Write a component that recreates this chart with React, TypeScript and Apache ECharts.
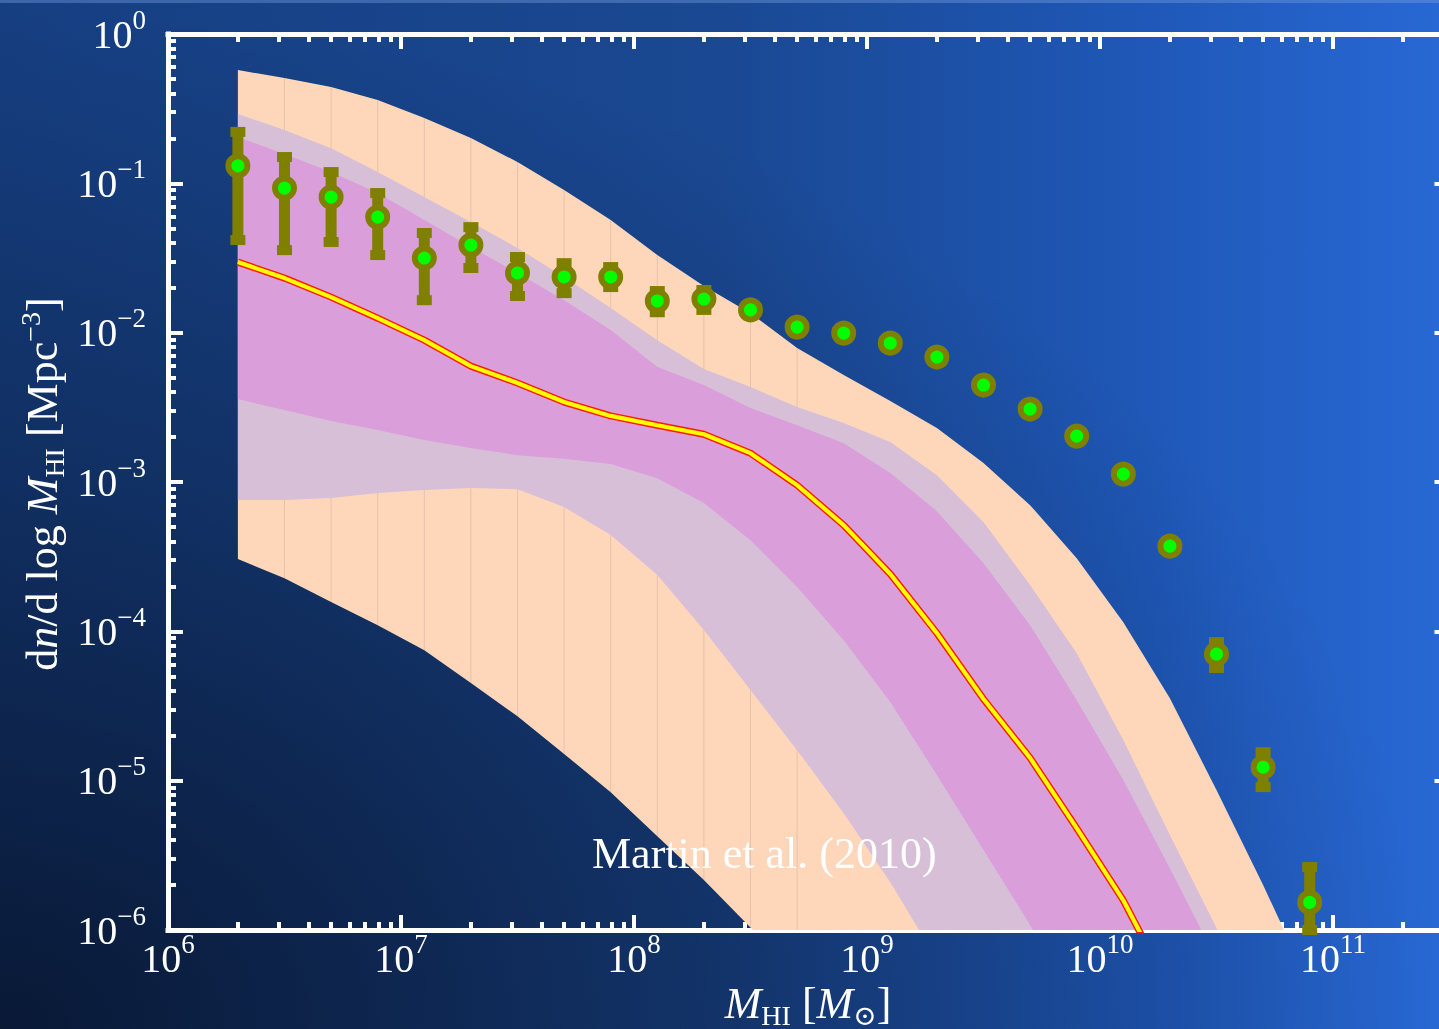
import { useEffect, useRef } from "react";
import * as echarts from "echarts";

const SERIF = '"Liberation Serif", "Times New Roman", "DejaVu Serif", serif';
const WHITE = "#ffffff";
const OLIVE = "#808000";
const GREEN = "#00ff00";
const PEACH = "#fed7ba";
const LAVENDER = "#d7bfd8";
const ORCHID = "#da9edb";

// Axis ranges in log10 units and the decades that carry labels / major ticks
const X_RANGE = [6, 11.5];
const Y_RANGE = [-6, 0];
const X_DECADES = [6, 7, 8, 9, 10, 11];
const Y_DECADES = [-6, -5, -4, -3, -2, -1, 0];

// Model grid, M_HI [M_sun] (log10 M = 6.3, 6.5, ... 10.9)
const MODEL_MASS = [
  1.995e6, 3.162e6, 5.012e6, 7.943e6, 1.259e7, 1.995e7, 3.162e7, 5.012e7,
  7.943e7, 1.259e8, 1.995e8, 3.162e8, 5.012e8, 7.943e8, 1.259e9, 1.995e9,
  3.162e9, 5.012e9, 7.943e9, 1.259e10, 1.995e10, 3.162e10, 5.012e10, 7.943e10,
];

// Model median mass function, dn/dlogM [Mpc^-3]
const MODEL_MEDIAN = [
  0.0297, 0.0232, 0.0173, 0.0125, 0.00891, 0.00597, 0.0046, 0.00343, 0.00277,
  0.0024, 0.00209, 0.00156, 0.000953, 0.000514, 0.000242, 9.73e-5, 3.52e-5,
  1.42e-5, 4.81e-6, 1.58e-6, 3.98e-7,
];

// Outer (peach) scatter envelope
const OUTER_HI = [
  0.574, 0.507, 0.442, 0.361, 0.274, 0.201, 0.139, 0.0902, 0.0568, 0.0331,
  0.0205, 0.0135, 0.00789, 0.0052, 0.00348, 0.0023, 0.00134, 0.0007, 0.000309,
  0.000115, 3.57e-5, 8.65e-6, 2.0e-6, 4.27e-7,
];
const OUTER_LO = [
  0.000305, 0.000227, 0.000157, 0.00011, 7.48e-5, 4.5e-5, 2.7e-5, 1.51e-5,
  8.38e-6, 4.25e-6, 2.16e-6, 1.04e-6, 5.01e-7,
];

// Middle (lavender) envelope
const MID_HI = [
  0.291, 0.228, 0.172, 0.119, 0.0809, 0.0551, 0.0369, 0.0236, 0.0146, 0.00891,
  0.0057, 0.00433, 0.00318, 0.00248, 0.00185, 0.00111, 0.00054, 0.000204,
  7.14e-5, 1.87e-5, 4.32e-6, 1.03e-6, 2.51e-7,
];
const MID_LO = [
  0.000757, 0.000757, 0.00078, 0.000843, 0.000883, 0.00091, 0.000895, 0.000679,
  0.000441, 0.000238, 0.000102, 4.04e-5, 1.6e-5, 6.05e-6, 2.09e-6, 6.31e-7,
];

// Inner (orchid) envelope
const INNER_HI = [
  0.204, 0.157, 0.119, 0.0861, 0.0568, 0.0374, 0.0251, 0.0165, 0.0104, 0.00589,
  0.00446, 0.00313, 0.0024, 0.00182, 0.00115, 0.000638, 0.000286, 0.00011,
  3.46e-5, 1.01e-5, 2.59e-6, 6.31e-7,
];
const INNER_LO = [
  0.00359, 0.00303, 0.00256, 0.00223, 0.00191, 0.00169, 0.00151, 0.00143,
  0.00132, 0.00106, 0.000723, 0.000408, 0.000198, 8.73e-5, 3.36e-5, 1.09e-5,
  3.43e-6, 1.08e-6, 3.16e-7,
];

// Martin et al. (2010) HI mass function
const OBS_MASS = [
  1.995e6, 3.162e6, 5.012e6, 7.943e6, 1.259e7, 1.995e7, 3.162e7, 5.012e7,
  7.943e7, 1.259e8, 1.995e8, 3.162e8, 5.012e8, 7.943e8, 1.259e9, 1.995e9,
  3.162e9, 5.012e9, 7.943e9, 1.259e10, 1.995e10, 3.162e10, 5.012e10, 7.943e10,
];
const OBS_PHI = [
  0.131, 0.0929, 0.0809, 0.0594, 0.0316, 0.0386, 0.0251, 0.0236, 0.0236,
  0.0163, 0.0168, 0.0142, 0.0109, 0.00993, 0.00851, 0.00687, 0.00446, 0.00308,
  0.00203, 0.00113, 0.000372, 7.03e-5, 1.23e-5, 1.53e-6,
];
const OBS_HI = [
  0.221, 0.15, 0.119, 0.0861, 0.0465, 0.0509, 0.0321, 0.0292, 0.0275, 0.019,
  0.0193, 0.0153, 0.0117, 0.0106, 0.009, 0.0072, 0.0047, 0.0033, 0.00215,
  0.0012, 0.0004, 8.47e-5, 1.55e-5, 2.64e-6,
];
const OBS_LO = [
  0.0417, 0.0357, 0.0405, 0.0331, 0.0165, 0.0271, 0.0176, 0.0184, 0.0202,
  0.0137, 0.0142, 0.0131, 0.0101, 0.0093, 0.008, 0.0065, 0.0042, 0.0029,
  0.0019, 0.00106, 0.000345, 5.68e-5, 9.06e-6, 1.0e-6,
];

const lg = Math.log10;

const BAND_LAYERS = [
  { upper: OUTER_HI, lower: OUTER_LO, color: PEACH, seams: true },
  { upper: MID_HI, lower: MID_LO, color: LAVENDER, seams: false },
  { upper: INNER_HI, lower: INNER_LO, color: ORCHID, seams: false },
];

// log10 positions of the 2..9 sub-decade ticks inside a range
function minorPositions(range: number[]) {
  const out: number[] = [];
  for (let d = Math.floor(range[0]); d < range[1]; d++) {
    for (let k = 2; k <= 9; k++) {
      const v = d + lg(k);
      if (v > range[0] && v < range[1]) out.push(v);
    }
  }
  return out;
}

function expText(v: number) {
  const e = Math.round(v);
  return e < 0 ? "\u2212" + -e : String(e);
}

const LABEL_RICH = {
  b: { fontSize: 40, lineHeight: 56, fontFamily: SERIF, color: WHITE },
  s: { fontSize: 27, lineHeight: 28, verticalAlign: "top", fontFamily: SERIF, color: WHITE },
};

function makeAxis(
  position: string,
  range: number[],
  ticks: number[],
  tickLength: number,
  withLine: boolean,
  label: null | { margin: number }
) {
  return {
    type: "value",
    position,
    offset: 0,
    min: range[0],
    max: range[1],
    silent: true,
    splitLine: { show: false },
    minorTick: { show: false },
    axisPointer: { show: false },
    axisLine: {
      show: withLine,
      onZero: false,
      lineStyle: { color: WHITE, width: 5, cap: "square" },
    },
    axisTick: {
      show: true,
      inside: true,
      length: tickLength,
      customValues: ticks,
      lineStyle: { color: WHITE, width: 4 },
    },
    axisLabel: label
      ? {
          show: true,
          customValues: ticks,
          margin: label.margin,
          hideOverlap: false,
          formatter: (v: number) => `{b|10}{s|${expText(v)}}`,
          rich: LABEL_RICH,
        }
      : { show: false },
  };
}

function buildOption() {
  const xMinor = minorPositions(X_RANGE);
  const yMinor = minorPositions(Y_RANGE);

  const titleRich = {
    r: { fontSize: 44, fontFamily: SERIF, fill: WHITE, lineHeight: 52 },
    i: { fontSize: 44, fontFamily: SERIF, fontStyle: "italic", fill: WHITE, lineHeight: 52 },
    sub: { fontSize: 28, fontFamily: SERIF, fill: WHITE, lineHeight: 30, verticalAlign: "bottom" },
    sup: { fontSize: 28, fontFamily: SERIF, fill: WHITE, lineHeight: 30, verticalAlign: "top" },
  };

  return {
    animation: false,
    backgroundColor: "transparent",
    grid: {
      left: 168,
      top: 34,
      width: 1281.5,
      height: 896,
      containLabel: false,
      outerBoundsMode: "none",
    },
    xAxis: [
      makeAxis("bottom", X_RANGE, X_DECADES, 15, true, { margin: 0 }),
      makeAxis("bottom", X_RANGE, xMinor, 8, false, null),
      makeAxis("top", X_RANGE, X_DECADES, 15, true, null),
      makeAxis("top", X_RANGE, xMinor, 8, false, null),
    ],
    yAxis: [
      makeAxis("left", Y_RANGE, Y_DECADES, 15, true, { margin: 22 }),
      makeAxis("left", Y_RANGE, yMinor, 8, false, null),
      makeAxis("right", Y_RANGE, Y_DECADES, 15, true, null),
      makeAxis("right", Y_RANGE, yMinor, 8, false, null),
    ],
    graphic: [
      {
        type: "rect",
        z: -100,
        silent: true,
        shape: { x: 0, y: 0, width: 1439, height: 1029 },
        style: {
          fill: new echarts.graphic.LinearGradient(0, 0, 1, 0, [
            { offset: 0, color: "#163f82" },
            { offset: 0.5, color: "#1a4892" },
            { offset: 0.8, color: "#1f58b8" },
            { offset: 1, color: "#2868d4" },
          ]),
        },
      },
      {
        type: "rect",
        z: -99,
        silent: true,
        shape: { x: 0, y: 0, width: 1439, height: 1029 },
        style: {
          fill: new echarts.graphic.RadialGradient(0, 1, 1, [
            { offset: 0, color: "rgba(4,10,24,0.72)" },
            { offset: 0.55, color: "rgba(4,10,24,0.3)" },
            { offset: 1, color: "rgba(4,10,24,0)" },
          ]),
        },
      },
      {
        type: "rect",
        z: -98,
        silent: true,
        shape: { x: 0, y: 0, width: 1439, height: 3 },
        style: { fill: "rgba(120,160,225,0.4)" },
      },
      {
        type: "text",
        z: 100,
        silent: true,
        x: 592,
        y: 853,
        style: {
          text: "Martin et al. (2010)",
          fill: WHITE,
          fontSize: 44,
          fontFamily: SERIF,
          align: "left",
          verticalAlign: "middle",
        },
      },
      {
        type: "text",
        z: 100,
        silent: true,
        x: 808,
        y: 1003,
        style: {
          text: "{i|M}{sub|HI}{r| [}{i|M}{sub|\u2299}{r|]}",
          rich: titleRich,
          fill: WHITE,
          align: "center",
          verticalAlign: "middle",
        },
      },
      {
        type: "text",
        z: 100,
        silent: true,
        x: 42,
        y: 484,
        rotation: Math.PI / 2,
        style: {
          text: "{r|d}{i|n}{r|/d log }{i|M}{sub|HI}{r| [Mpc}{sup|\u22123}{r|]}",
          rich: titleRich,
          fill: WHITE,
          align: "center",
          verticalAlign: "middle",
        },
      },
    ],
    series: [
      {
        type: "custom",
        name: "model envelopes",
        coordinateSystem: "cartesian2d",
        xAxisIndex: 0,
        yAxisIndex: 0,
        silent: true,
        z: 2,
        data: BAND_LAYERS.map(() => [X_RANGE[0], Y_RANGE[0]]),
        renderItem: (params: any, api: any) => {
          const layer = BAND_LAYERS[params.dataIndex];
          const top = layer.upper.map((v, i) => api.coord([lg(MODEL_MASS[i]), lg(v)]));
          const bottom = layer.lower
            .map((v, i) => api.coord([lg(MODEL_MASS[i]), lg(v)]))
            .reverse();
          const children: any[] = [
            {
              type: "polygon",
              shape: { points: top.concat(bottom) },
              style: { fill: layer.color },
            },
          ];
          if (layer.seams) {
            const n = Math.min(layer.upper.length, layer.lower.length);
            for (let i = 1; i < n; i++) {
              const a = api.coord([lg(MODEL_MASS[i]), lg(layer.upper[i])]);
              const b = api.coord([lg(MODEL_MASS[i]), lg(layer.lower[i])]);
              children.push({
                type: "line",
                shape: { x1: a[0], y1: a[1], x2: b[0], y2: b[1] },
                style: { stroke: "rgba(150,125,125,0.22)", lineWidth: 1 },
              });
            }
          }
          const cs = params.coordSys;
          return {
            type: "group",
            children,
            clipPath: {
              type: "rect",
              shape: { x: cs.x, y: cs.y, width: cs.width, height: cs.height },
            },
          };
        },
      },
      {
        type: "line",
        name: "median edge",
        xAxisIndex: 0,
        yAxisIndex: 0,
        silent: true,
        z: 3,
        symbol: "none",
        clip: true,
        data: MODEL_MEDIAN.map((v, i) => [lg(MODEL_MASS[i]), lg(v)]),
        lineStyle: { color: "#ff1a00", width: 7 },
      },
      {
        type: "line",
        name: "median",
        xAxisIndex: 0,
        yAxisIndex: 0,
        silent: true,
        z: 3,
        symbol: "none",
        clip: true,
        data: MODEL_MEDIAN.map((v, i) => [lg(MODEL_MASS[i]), lg(v)]),
        lineStyle: { color: "#ffff00", width: 4.2 },
      },
      {
        type: "custom",
        name: "Martin et al. (2010) errors",
        coordinateSystem: "cartesian2d",
        xAxisIndex: 0,
        yAxisIndex: 0,
        silent: true,
        z: 4,
        dimensions: ["m", "lo", "hi"],
        encode: { x: 0, y: [1, 2] },
        data: OBS_MASS.map((m, i) => [lg(m), lg(OBS_LO[i]), lg(OBS_HI[i])]),
        renderItem: (_params: any, api: any) => {
          const lo = api.coord([api.value(0), api.value(1)]);
          const hi = api.coord([api.value(0), api.value(2)]);
          const x = lo[0];
          const fill = { fill: OLIVE };
          return {
            type: "group",
            children: [
              { type: "rect", shape: { x: x - 5.5, y: hi[1], width: 11, height: lo[1] - hi[1] }, style: fill },
              { type: "rect", shape: { x: x - 7.5, y: hi[1] - 5, width: 15, height: 10 }, style: fill },
              { type: "rect", shape: { x: x - 7.5, y: lo[1] - 5, width: 15, height: 10 }, style: fill },
            ],
          };
        },
      },
      {
        type: "scatter",
        name: "Martin et al. (2010)",
        xAxisIndex: 0,
        yAxisIndex: 0,
        silent: true,
        z: 5,
        clip: false,
        symbol: "circle",
        symbolSize: 19,
        data: OBS_MASS.map((m, i) => [lg(m), lg(OBS_PHI[i])]),
        itemStyle: { color: GREEN, borderColor: OLIVE, borderWidth: 6, opacity: 1 },
      },
    ],
  };
}

export default function App() {
  const ref = useRef<HTMLDivElement>(null);
  useEffect(() => {
    if (!ref.current) return;
    const chart = echarts.init(ref.current, null, { renderer: "svg" });
    chart.setOption(buildOption() as any);
    return () => chart.dispose();
  }, []);
  return (
    <div
      ref={ref}
      style={{ position: "fixed", left: 0, top: 0, width: 1439, height: 1029 }}
    />
  );
}
